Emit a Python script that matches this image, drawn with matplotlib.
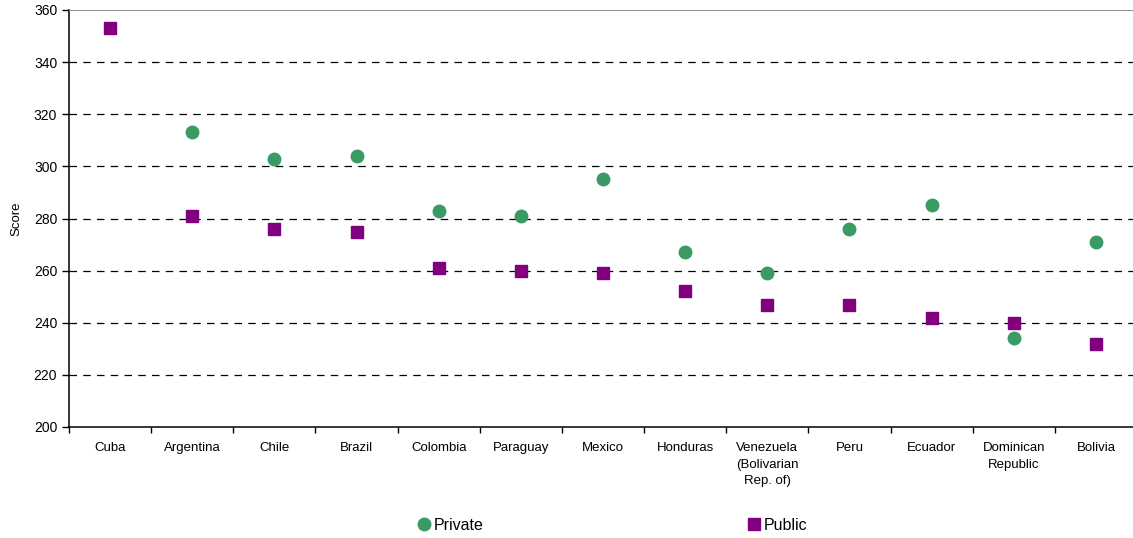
import matplotlib
matplotlib.use("Agg")
import matplotlib.pyplot as plt
import numpy as np

plt.rcParams['font.family'] = ['Liberation Sans', 'DejaVu Sans']

categories = ["Cuba", "Argentina", "Chile", "Brazil", "Colombia", "Paraguay", "Mexico",
              "Honduras", "Venezuela\n(Bolivarian\nRep. of)", "Peru", "Ecuador",
              "Dominican\nRepublic", "Bolivia"]
private = [np.nan, 313, 303, 304, 283, 281, 295, 267, 259, 276, 285, 234, 271]
public = [353, 281, 276, 275, 261, 260, 259, 252, 247, 247, 242, 240, 232]
yticks = [200, 220, 240, 260, 280, 300, 320, 340, 360]

fig = plt.figure(figsize=(11.33, 5.38), dpi=100)
ax = fig.add_axes([69/1133, 1 - 427/538, 1068/1133, (427 - 10)/538])

x = np.arange(len(categories))
ax.plot(x, private, linestyle='none', marker='o', markersize=9, color='#3a9a64', label='Private')
ax.plot(x, public, linestyle='none', marker='s', markersize=9, color='#800080', label='Public')

ax.set_xlim(-0.5, len(categories) - 0.5)
ax.set_ylim(200, 360)
ax.set_yticks(yticks)
ax.set_xticks(x)
ax.set_xticklabels(categories, fontsize=9.5, va='top', linespacing=1.5)
ax.set_xticks(np.arange(len(categories) + 1) - 0.5, minor=True)
ax.tick_params(axis='x', which='major', length=0, pad=11)
ax.tick_params(axis='x', which='minor', length=4, direction='out', width=1)
ax.tick_params(axis='y', length=5, direction='out', labelsize=10, width=1)
for y in yticks[1:-1]:
    ax.axhline(y, color='black', linestyle=(0, (6, 5)), linewidth=0.9, zorder=0)
ax.set_ylabel('Score', fontsize=9.5, labelpad=8)

ax.spines['right'].set_visible(False)
ax.spines['top'].set_color('#999999')
ax.spines['left'].set_linewidth(1.1)
ax.spines['bottom'].set_linewidth(1.1)

leg = fig.legend(loc='center', bbox_to_anchor=(611/1133, 1 - 525/538), ncol=2,
                 frameon=False, fontsize=11.5, columnspacing=16.3, handletextpad=0.0,
                 handlelength=1.2, markerscale=1.0)

fig.savefig('out.png', dpi=100)
